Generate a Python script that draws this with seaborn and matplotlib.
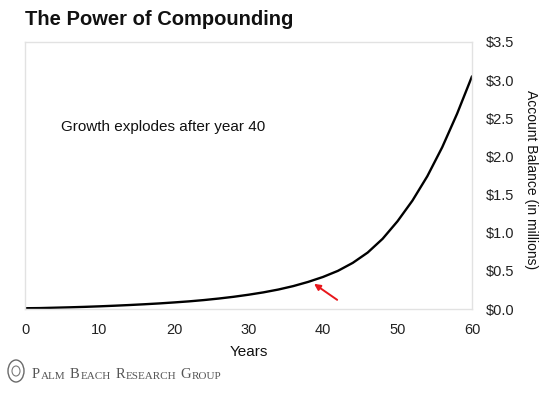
import matplotlib
matplotlib.use("Agg")
import matplotlib.pyplot as plt
from matplotlib.patches import Ellipse
import seaborn as sns
import pandas as pd

# values (millions of dollars)
years = [0, 2, 4, 6, 8, 10, 12, 14, 16, 18, 20, 22, 24, 26, 28, 30,
         32, 34, 36, 38, 40, 42, 44, 46, 48, 50, 52, 54, 56, 58, 60]
balance = [0.010, 0.012, 0.017, 0.022, 0.028, 0.035, 0.043, 0.052, 0.062, 0.073, 0.086,
           0.100, 0.117, 0.137, 0.160, 0.187, 0.218, 0.255, 0.300, 0.355, 0.420,
           0.500, 0.605, 0.740, 0.920, 1.150, 1.420, 1.740, 2.120, 2.560, 3.050]
x_ticks = [0, 10, 20, 30, 40, 50, 60]
y_ticks = [0.0, 0.5, 1.0, 1.5, 2.0, 2.5, 3.0, 3.5]
y_labels = ["$%.1f" % v for v in y_ticks]

df = pd.DataFrame({"year": years, "balance": balance})

sns.set_theme(style="white")
plt.rcParams["font.family"] = ["Liberation Sans Narrow", "Liberation Sans", "DejaVu Sans"]

fig = plt.figure(figsize=(5.6, 3.96), dpi=100)
ax = fig.add_axes([25 / 560, 87 / 396, 447 / 560, 267 / 396])

sns.lineplot(data=df, x="year", y="balance", color="black", linewidth=1.7, ax=ax)

ax.set_xlim(0, 60)
ax.set_ylim(0, 3.5)
ax.set_xticks(x_ticks)
ax.set_xticklabels([str(t) for t in x_ticks], fontsize=10.5)
ax.yaxis.tick_right()
ax.yaxis.set_label_position("right")
ax.set_yticks(y_ticks)
ax.set_yticklabels(y_labels, fontsize=10.5)
ax.tick_params(axis="both", length=0, colors="#222222")
ax.tick_params(axis="x", pad=10)
ax.tick_params(axis="y", pad=10)
ax.set_xlabel("Years", fontsize=11, color="#111111", labelpad=6)
ax.set_ylabel("Account Balance (in millions)", fontsize=10, color="#111111",
              rotation=270, labelpad=16)
ax.yaxis.set_label_coords(1.148, 0.485)
for side in ["top", "right", "left", "bottom"]:
    ax.spines[side].set_color("#e2e2e2")
    ax.spines[side].set_linewidth(1.0)

ax.text(4.8, 2.38, "Growth explodes after year 40", fontsize=11, color="#111111",
        va="center")

ax.annotate("", xy=(38.8, 0.33), xytext=(41.9, 0.12),
            arrowprops=dict(arrowstyle="-|>", color="#e8161b", lw=1.4,
                            mutation_scale=9, shrinkA=0, shrinkB=0))

fig.text(25 / 560, 1 - 25 / 396, "The Power of Compounding", fontsize=14.5,
         fontweight="bold", color="#111111", va="baseline", ha="left")

# logo in small caps
logo_kw = dict(color="#555555", family=["Liberation Serif", "DejaVu Serif"])
words = ["Palm", "Beach", "Research", "Group"]
prev = fig.text(32 / 560, 1 - 378 / 396, words[0][0].upper(), fontsize=10.5,
                va="baseline", **logo_kw)
first = True
for w in words:
    if not first:
        prev = ax.annotate(w[0].upper(), xy=(1, 0), xycoords=prev, xytext=(3.5, 0),
                           textcoords="offset points", fontsize=10.5, va="bottom", **logo_kw)
    first = False
    prev = ax.annotate(w[1:].upper(), xy=(1, 0), xycoords=prev, xytext=(0.3, 0),
                       textcoords="offset points", fontsize=8, va="bottom", **logo_kw)

seal = Ellipse((16 / 560, 1 - 371 / 396), 16 / 560, 22 / 396, transform=fig.transFigure,
               fill=False, edgecolor="#6a6a6a", linewidth=1.0)
fig.patches.append(seal)
inner = Ellipse((16 / 560, 1 - 371 / 396), 8 / 560, 10 / 396, transform=fig.transFigure,
                fill=False, edgecolor="#7a7a7a", linewidth=0.8)
fig.patches.append(inner)

fig.savefig("out.png", dpi=100, facecolor="white")
